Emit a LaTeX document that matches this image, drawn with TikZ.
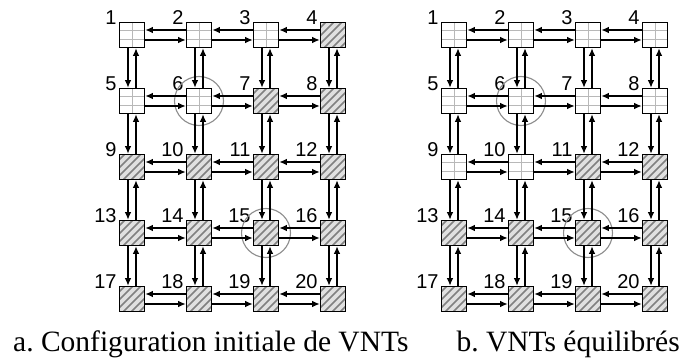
\documentclass[tikz,border=0pt]{standalone}
\usepackage{fontspec}
\setmainfont{Liberation Serif}
\setsansfont{Liberation Sans}
\usetikzlibrary{arrows.meta}
\frenchspacing

\begin{document}
\begin{tikzpicture}[x=1pt,y=-1pt,>={Latex[length=7.5pt,width=6.5pt]},every node/.style={inner sep=0pt},cell/.style={draw,line width=1.6pt,minimum size=25pt,fill=white},gridcell/.style={cell,path picture={\draw[black!28,line width=1pt] (path picture bounding box.north) -- (path picture bounding box.south) ([yshift=4.3pt]path picture bounding box.west) -- ([yshift=4.3pt]path picture bounding box.east) ([yshift=-4.3pt]path picture bounding box.west) -- ([yshift=-4.3pt]path picture bounding box.east);}},hatchcell/.style={cell,fill=black!12,path picture={\foreach \k in {-28,-20,...,28} \draw[black!50,line width=1.5pt] ([xshift=\k pt]path picture bounding box.south west) -- ++(30pt,30pt);}},numlabel/.style={font=\sffamily\fontsize{20}{20}\selectfont,anchor=base east},link/.style={->,line width=1.2pt},focus/.style={draw=black!45,line width=1.1pt},caption/.style={font=\fontsize{29.5}{30}\selectfont}]
\useasboundingbox (0,0) rectangle (683,358);
% cells: left grid a, right grid b
\foreach \n/\sa/\sb in {1/gridcell/gridcell,2/gridcell/gridcell,3/gridcell/gridcell,4/hatchcell/gridcell,5/gridcell/gridcell,6/gridcell/gridcell,7/hatchcell/gridcell,8/hatchcell/gridcell,9/hatchcell/gridcell,10/hatchcell/gridcell,11/hatchcell/hatchcell,12/hatchcell/hatchcell,13/hatchcell/hatchcell,14/hatchcell/hatchcell,15/hatchcell/hatchcell,16/hatchcell/hatchcell,17/hatchcell/hatchcell,18/hatchcell/hatchcell,19/hatchcell/hatchcell,20/hatchcell/hatchcell}{
  \pgfmathsetmacro\cx{132+67*mod(\n-1,4)} \pgfmathsetmacro\cy{35+66*floor((\n-1)/4)}
  \node[\sa] (a\n) at (\cx,\cy) {}; \node[\sb] (b\n) at (\cx+322,\cy) {};
  \node[numlabel] (la\n) at ([xshift=-2pt,yshift=-3pt]a\n.north west) {\n}; \node[numlabel] (lb\n) at ([xshift=-2pt,yshift=-3pt]b\n.north west) {\n};
}
\foreach \g in {a,b}{\draw[focus] (\g6) circle (24.5pt); \draw[focus] (\g15) circle (24.5pt);}
% links
\foreach \g in {a,b}{
  \foreach \n in {1,2,3,5,6,7,9,10,11,13,14,15,17,18,19}{\pgfmathtruncatemacro\m{\n+1}
    \draw[link] ([yshift=5pt]\g\m.west) -- ([yshift=5pt]\g\n.east); \draw[link] ([yshift=-5pt]\g\n.east) -- ([yshift=-5pt]\g\m.west);}
  \foreach \n in {1,...,16}{\pgfmathtruncatemacro\m{\n+4}
    \draw[link] ([xshift=-4pt]\g\n.south) -- ([xshift=-4pt]\g\m.north); \draw[link] ([xshift=4pt]\g\m.north) -- ([xshift=4pt]\g\n.south);}
}
\node[caption,anchor=base west] (capa) at (13,351) {a. Configuration initiale de VNTs};
\node[caption,anchor=base east] (capb) at (680,351) {b. VNTs équilibrés};
\end{tikzpicture}
\end{document}
